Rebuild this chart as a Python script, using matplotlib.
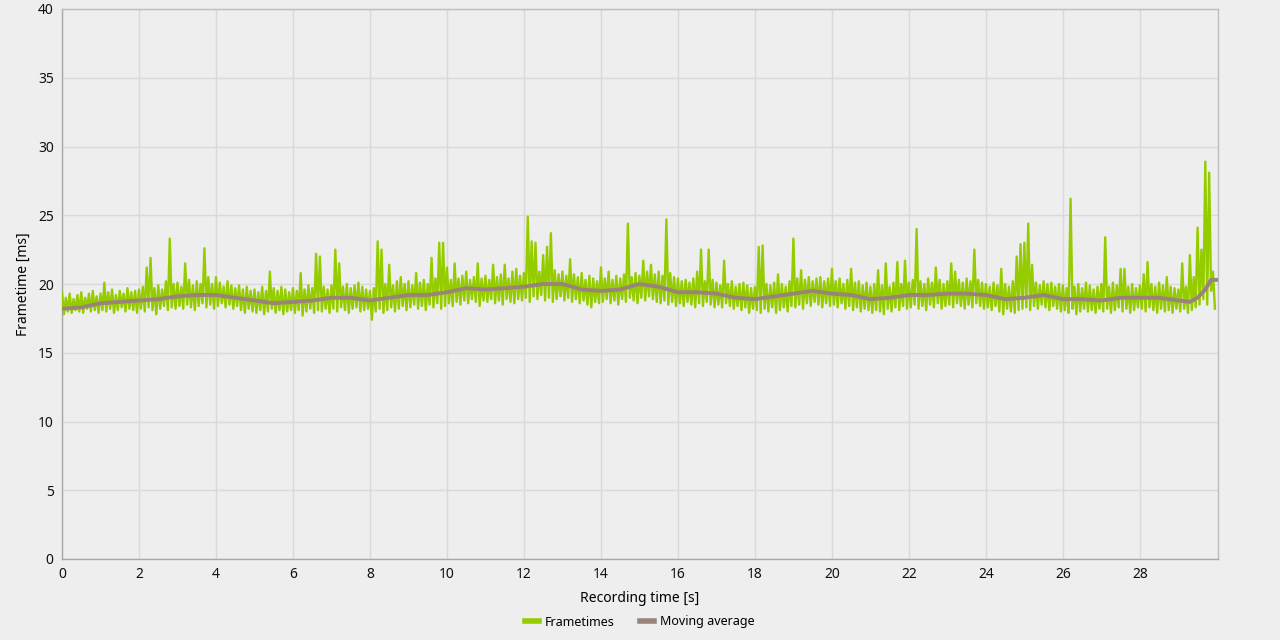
import numpy as np
import matplotlib
matplotlib.use("Agg")
import matplotlib.pyplot as plt

plt.rcParams['font.family'] = ['Noto Sans', 'DejaVu Sans']

# ---- data ----
# frame-time peaks (upper envelope) every 0.1 s, from t = 0.0 to 29.9 s
frametime_peaks = [
    19.4, 19.0, 19.3, 18.9, 19.2, 19.4, 19.0, 19.3, 19.5, 19.1,
    19.3, 20.1, 19.4, 19.6, 19.2, 19.5, 19.3, 19.7, 19.4, 19.5,
    19.6, 19.8, 21.2, 21.9, 19.7, 19.9, 19.6, 20.2, 23.3, 20.0,
    20.1, 19.8, 21.5, 20.3, 19.9, 20.2, 20.0, 22.6, 20.5, 20.0,
    20.5, 20.1, 19.8, 20.2, 19.9, 19.7, 19.9, 19.6, 19.8, 19.5,
    19.6, 19.4, 19.8, 19.5, 20.9, 19.7, 19.5, 19.8, 19.6, 19.4,
    19.7, 19.5, 20.8, 19.6, 19.9, 19.7, 22.2, 22.0, 19.8, 19.6,
    19.9, 22.5, 21.5, 19.8, 20.0, 19.7, 19.9, 20.1, 19.8, 19.6,
    19.5, 19.7, 23.1, 22.5, 20.0, 21.4, 19.9, 20.2, 20.5, 20.0,
    20.2, 19.9, 20.8, 20.1, 20.3, 20.0, 21.9, 20.4, 23.0, 23.0,
    21.2, 20.3, 21.5, 20.4, 20.6, 20.9, 20.3, 20.5, 21.5, 20.4,
    20.6, 20.3, 21.4, 20.5, 20.7, 21.4, 20.4, 20.9, 21.1, 20.6,
    20.8, 24.9, 23.1, 23.0, 20.9, 22.1, 22.7, 23.7, 21.0, 20.7,
    20.9, 20.6, 21.8, 20.7, 20.5, 20.8, 20.3, 20.6, 20.4, 20.2,
    21.2, 20.4, 20.9, 20.3, 20.6, 20.4, 20.7, 24.4, 20.5, 20.8,
    20.6, 21.7, 20.9, 21.4, 20.7, 20.9, 20.6, 24.7, 20.8, 20.5,
    20.4, 20.2, 20.3, 20.1, 20.4, 20.9, 22.5, 20.2, 22.5, 20.3,
    20.1, 19.9, 21.7, 20.0, 20.2, 19.8, 20.0, 20.1, 19.9, 19.7,
    19.8, 22.7, 22.8, 20.0, 19.9, 20.1, 20.7, 20.0, 19.8, 20.2,
    23.3, 20.4, 21.0, 20.3, 20.5, 20.2, 20.4, 20.5, 20.2, 20.4,
    21.1, 20.2, 20.4, 20.0, 20.3, 21.1, 20.1, 20.2, 19.9, 20.1,
    19.8, 20.0, 21.0, 19.9, 21.5, 19.8, 20.1, 21.6, 20.0, 21.7,
    20.1, 20.3, 24.0, 20.2, 20.0, 20.4, 20.1, 21.2, 20.3, 20.0,
    20.2, 21.5, 20.9, 20.3, 20.1, 20.4, 20.2, 22.5, 20.3, 20.1,
    20.0, 19.8, 20.1, 19.9, 21.1, 20.0, 19.8, 20.2, 22.0, 22.9,
    23.0, 24.4, 21.4, 20.1, 19.9, 20.2, 20.0, 20.1, 19.8, 20.0,
    19.9, 19.7, 26.2, 19.8, 20.0, 19.7, 20.1, 19.9, 19.6, 19.8,
    20.0, 23.4, 19.8, 20.1, 19.9, 21.1, 21.1, 19.8, 20.0, 19.7,
    19.9, 20.7, 21.6, 20.0, 19.8, 20.1, 19.9, 20.5, 19.8, 19.7,
    19.6, 21.5, 19.8, 22.1, 20.5, 24.1, 22.5, 28.9, 28.1, 20.9,
]
# frame-time troughs (lower envelope) every 0.1 s, from t = 0.05 to 29.95 s
frametime_troughs = [
    17.8, 18.0, 17.9, 18.1, 18.0, 17.9, 18.2, 18.0, 18.1, 17.9,
    18.1, 18.0, 18.2, 17.9, 18.1, 18.3, 18.0, 18.2, 18.1, 17.9,
    18.2, 18.0, 18.3, 18.1, 17.8, 18.2, 18.4, 18.1, 18.3, 18.2,
    18.4, 18.2, 18.5, 18.3, 18.1, 18.4, 18.6, 18.3, 18.5, 18.2,
    18.4, 18.6, 18.3, 18.5, 18.2, 18.4, 18.1, 17.9, 18.2, 18.0,
    17.9, 18.1, 17.8, 18.0, 18.2, 17.9, 18.1, 17.8, 18.0, 18.1,
    17.9, 18.1, 17.7, 18.0, 18.2, 17.9, 18.1, 18.0, 18.2, 17.9,
    18.2, 18.0, 18.3, 18.1, 17.9, 18.2, 18.3, 18.0, 18.1, 18.2,
    17.4, 18.0, 18.2, 17.9, 18.1, 18.3, 18.0, 18.2, 18.4, 18.1,
    18.3, 18.5, 18.2, 18.4, 18.1, 18.5, 18.3, 18.6, 18.2, 18.4,
    18.6, 18.4, 18.7, 18.5, 18.8, 18.6, 18.9, 18.7, 18.4, 18.8,
    18.7, 18.9, 18.6, 18.8, 18.5, 18.9, 18.7, 18.6, 18.9, 18.8,
    19.0, 18.7, 19.1, 18.9, 19.2, 18.8, 19.0, 18.7, 18.9, 19.1,
    18.8, 19.0, 18.7, 18.9, 18.6, 18.8, 18.5, 18.3, 18.7, 18.6,
    18.7, 18.9, 18.6, 18.8, 18.5, 18.9, 18.7, 19.0, 18.8, 18.6,
    19.0, 18.8, 19.1, 18.9, 18.7, 18.6, 18.8, 18.5, 18.7, 18.4,
    18.6, 18.4, 18.7, 18.5, 18.3, 18.6, 18.4, 18.7, 18.5, 18.3,
    18.5, 18.3, 18.6, 18.4, 18.2, 18.4, 18.1, 18.3, 17.9, 18.2,
    18.1, 17.9, 18.2, 18.0, 18.3, 17.9, 18.1, 18.3, 18.0, 18.4,
    18.3, 18.5, 18.2, 18.6, 18.4, 18.7, 18.5, 18.3, 18.6, 18.4,
    18.5, 18.3, 18.6, 18.2, 18.4, 18.1, 18.3, 18.0, 18.2, 18.1,
    17.9, 18.1, 18.0, 17.8, 18.2, 18.0, 18.3, 18.1, 18.4, 18.2,
    18.3, 18.5, 18.2, 18.4, 18.1, 18.5, 18.3, 18.6, 18.2, 18.4,
    18.5, 18.3, 18.6, 18.4, 18.2, 18.5, 18.3, 18.6, 18.4, 18.2,
    18.3, 18.1, 18.4, 18.0, 17.8, 18.2, 18.0, 17.9, 18.1, 18.2,
    18.3, 18.1, 18.4, 18.2, 18.5, 18.3, 18.1, 18.4, 18.2, 18.0,
    18.1, 17.9, 18.2, 17.8, 18.0, 18.2, 18.0, 18.1, 17.9, 18.2,
    18.0, 18.2, 17.9, 18.1, 18.3, 18.0, 18.2, 17.9, 18.1, 18.3,
    18.2, 18.0, 18.3, 18.1, 17.9, 18.2, 18.0, 18.1, 17.9, 18.2,
    18.0, 18.2, 17.9, 18.1, 18.3, 18.5, 18.9, 18.5, 19.5, 18.2,
]
# moving average
ma_time = [0.0, 0.5, 1.0, 1.5, 2.0, 2.5, 3.0, 3.5, 4.0, 4.5, 5.0, 5.5, 6.0, 6.5,
           7.0, 7.5, 8.0, 8.5, 9.0, 9.5, 10.0, 10.5, 11.0, 11.5, 12.0, 12.5,
           13.0, 13.5, 14.0, 14.5, 15.0, 15.5, 16.0, 16.5, 17.0, 17.5, 18.0,
           18.5, 19.0, 19.5, 20.0, 20.5, 21.0, 21.5, 22.0, 22.5, 23.0, 23.5,
           24.0, 24.5, 25.0, 25.5, 26.0, 26.5, 27.0, 27.5, 28.0, 28.5, 29.0,
           29.3, 29.5, 29.7, 29.85, 30.0]
ma_value = [18.2, 18.3, 18.6, 18.7, 18.8, 18.9, 19.1, 19.2, 19.2, 19.0, 18.8,
            18.6, 18.7, 18.8, 19.0, 19.0, 18.8, 19.0, 19.2, 19.2, 19.4, 19.7,
            19.6, 19.7, 19.8, 20.0, 20.0, 19.6, 19.5, 19.6, 20.0, 19.8, 19.4,
            19.4, 19.3, 19.0, 18.9, 19.1, 19.3, 19.5, 19.3, 19.2, 18.9, 19.0,
            19.2, 19.2, 19.3, 19.3, 19.2, 18.9, 19.0, 19.2, 18.9, 18.9, 18.8,
            19.0, 19.0, 19.0, 18.8, 18.7, 19.0, 19.6, 20.3, 20.3]

x_ticks = list(range(0, 30, 2))
y_ticks = list(range(0, 45, 5))

# ---- figure ----
bg = '#eeeeee'
fig = plt.figure(figsize=(12.8, 6.4), dpi=100, facecolor=bg)
ax = fig.add_axes([62/1280, 1 - 559/640, (1218 - 62)/1280, (559 - 9)/640])
ax.set_facecolor(bg)

n = len(frametime_peaks)
t_peak = np.arange(n) * 0.1
t_trough = t_peak + 0.05
ft_t = np.empty(2 * n)
ft_v = np.empty(2 * n)
ft_t[0::2] = t_peak
ft_t[1::2] = t_trough
ft_v[0::2] = frametime_peaks
ft_v[1::2] = frametime_troughs

green = '#95cc00'
brown = '#9a8479'
ax.plot(ft_t, ft_v, color=green, lw=1.7, label='Frametimes', zorder=3)
ax.plot(ma_time, ma_value, color=brown, lw=2.8, label='Moving average', zorder=4)

ax.set_xlim(0, 30.03)
ax.set_ylim(0, 40)
ax.set_xticks(x_ticks)
ax.set_yticks(y_ticks)
ax.grid(True, color='#d9d9d9', lw=1)
ax.set_axisbelow(True)
ax.tick_params(length=0, labelsize=10, colors='#111111', pad=6)
for s in ax.spines.values():
    s.set_color('#bdbdbd')
    s.set_linewidth(1)
ax.spines['left'].set_color('#a8a8a8')
ax.spines['bottom'].set_color('#a8a8a8')

ax.set_xlabel('Recording time [s]', fontsize=10, labelpad=6)
ax.set_ylabel('Frametime [ms]', fontsize=10, labelpad=5)

leg = fig.legend(loc='center', bbox_to_anchor=(0.5, 1 - 622/640), ncol=2,
                 frameon=False, fontsize=9, handlelength=1.1,
                 columnspacing=2.0, handletextpad=0.5)
for h in leg.get_lines():
    h.set_linewidth(4)

fig.savefig('out.png', dpi=100, facecolor=bg)
